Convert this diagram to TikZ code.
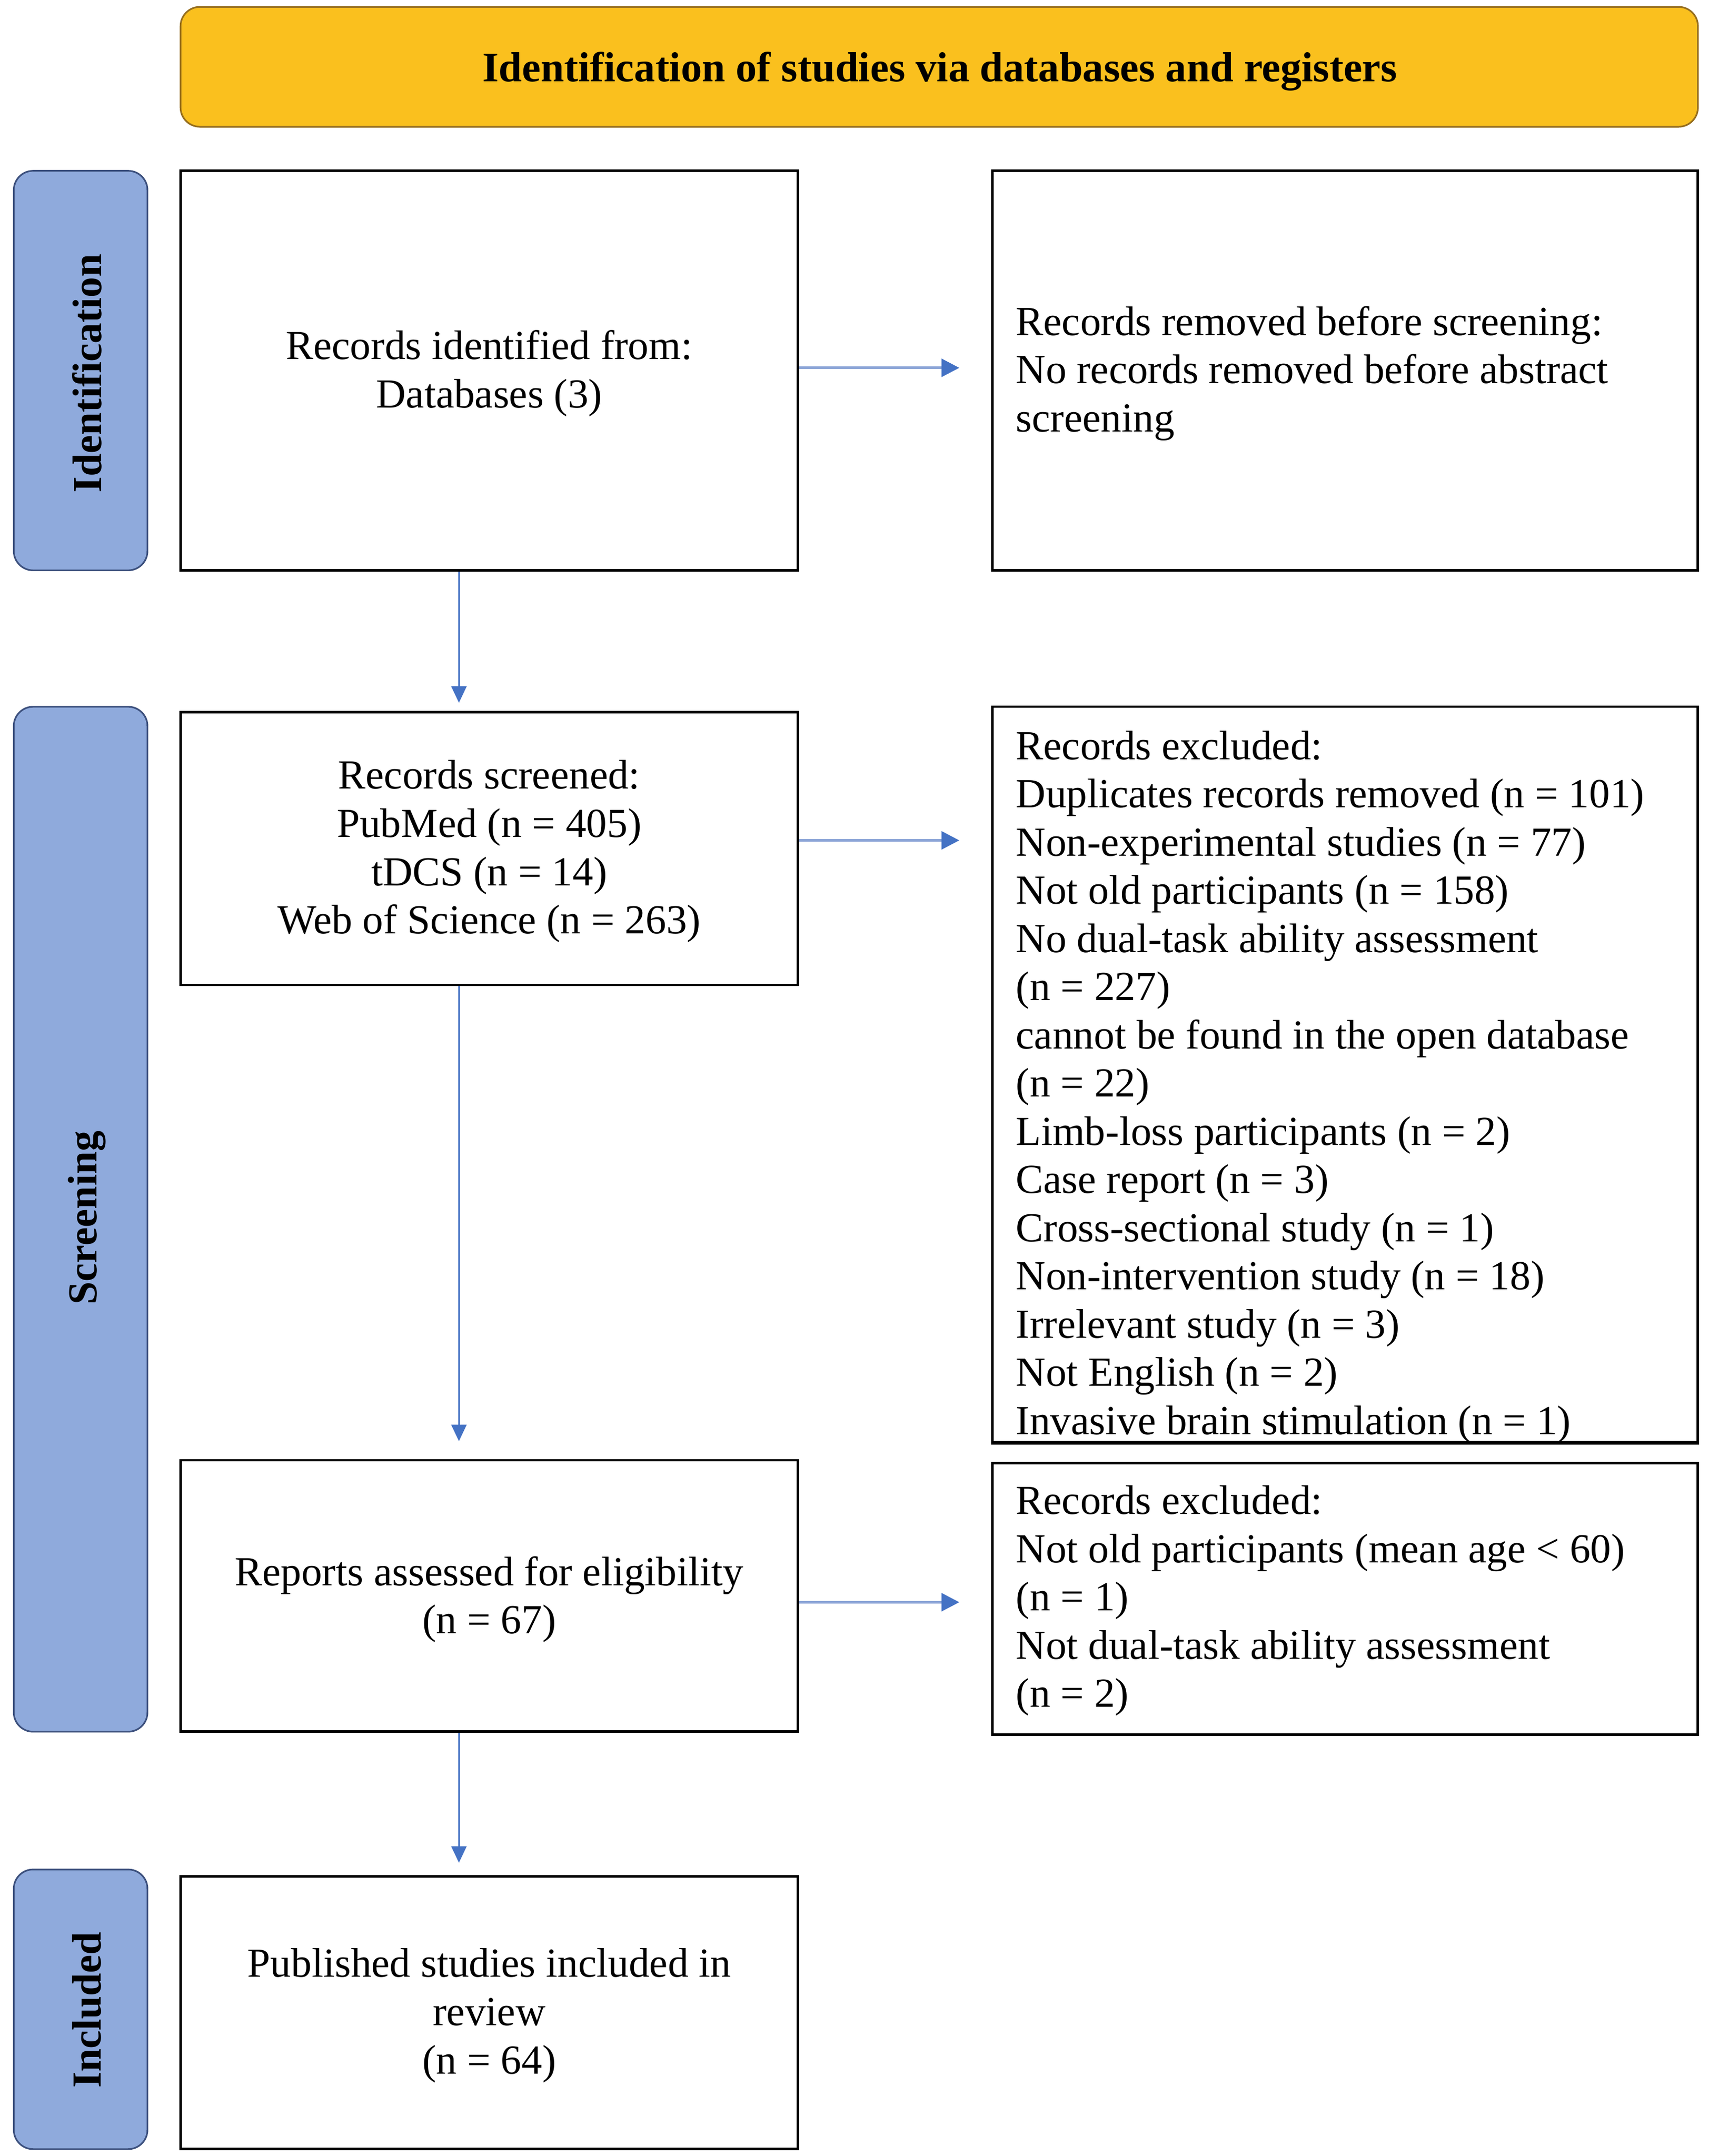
\documentclass[tikz,border=0pt]{standalone}
\usepackage{fontspec}
\setmainfont{Liberation Serif}
\usetikzlibrary{arrows.meta,calc}
\definecolor{hdrfill}{RGB}{250,192,30}
\definecolor{hdrdraw}{RGB}{150,110,30}
\definecolor{lblfill}{RGB}{143,170,220}
\definecolor{lbldraw}{RGB}{60,80,125}
\definecolor{arrblue}{RGB}{68,114,196}
\definecolor{arrline}{RGB}{140,165,215}
\begin{document}
\begin{tikzpicture}[x=1pt,y=-1pt,
  box/.style={draw=black,line width=1.8pt,rectangle,inner sep=0pt,fill=white},
  hdr/.style={draw=hdrdraw,fill=hdrfill,line width=1.2pt,rounded corners=14pt,inner sep=0pt},
  lbl/.style={draw=lbldraw,fill=lblfill,line width=1.2pt,rounded corners=14pt,inner sep=0pt},
  txt/.style={font=\fontsize{30}{35}\selectfont,inner sep=0pt,align=center},
  ltxt/.style={font=\fontsize{30}{35}\selectfont,inner sep=0pt,align=left,anchor=west},
  htxt/.style={font=\bfseries\fontsize{30.5}{36}\selectfont,inner sep=0pt},
  stxt/.style={font=\bfseries\fontsize{30}{36}\selectfont,inner sep=0pt,rotate=90},
  harr/.style={draw=arrline,line width=2pt,-{Triangle[length=13pt,width=13pt,color=arrblue]},shorten >=23pt},
  varr/.style={draw=arrblue,line width=1.3pt,-{Triangle[length=12pt,width=11pt,color=arrblue]}}
]
\useasboundingbox (0,0) rectangle (1240,1565);
% header
\node[hdr,minimum width=1101pt,minimum height=87pt] (hdr) at (681.5,48.5) {};
\node[htxt] (hdrt) at (682,52) {Identification of studies via databases and registers};
% side labels
\node[lbl,minimum width=97pt,minimum height=290pt] (lid) at (58.5,269) {};
\node[stxt] (lidt) at (63,271) {Identification};
\node[lbl,minimum width=97pt,minimum height=744pt] (lsc) at (58.5,885) {};
\node[stxt] (lsct) at (63,884) {Screening};
\node[lbl,minimum width=97pt,minimum height=203pt] (lin) at (58.5,1458.5) {};
\node[stxt] (lint) at (63,1459) {Included};
% boxes
\node[box,minimum width=448pt,minimum height=290pt] (A) at (355,269) {};
\node[box,minimum width=512pt,minimum height=290pt] (B) at (976,269) {};
\node[box,minimum width=448pt,minimum height=198pt] (C) at (355,616) {};
\node[box,minimum width=512pt,minimum height=534pt] (D) at (976,780) {};
\node[box,minimum width=448pt,minimum height=197pt] (E) at (355,1158.5) {};
\node[box,minimum width=512pt,minimum height=197pt] (F) at (976,1160.5) {};
\node[box,minimum width=448pt,minimum height=198pt] (G) at (355,1461) {};
% texts
\node[txt] (At) at (355,271) {Records identified from:\\Databases (3)};
\node[ltxt] (Bt) at (737,271) {Records removed before screening:\\No records removed before abstract\\screening};
\node[txt] (Ct) at (355,618) {Records screened:\\PubMed (n = 405)\\tDCS (n = 14)\\Web of Science (n = 263)};
\begin{scope}
\clip (D.north west) rectangle (D.south east);
\node[ltxt] (Dt) at (737,789) {Records excluded:\\
Duplicates records removed (n = 101)\\
Non-experimental studies (n = 77)\\
Not old participants (n = 158)\\
No dual-task ability assessment\\
(n = 227)\\
cannot be found in the open database\\
(n = 22)\\
Limb-loss participants (n = 2)\\
Case report (n = 3)\\
Cross-sectional study (n = 1)\\
Non-intervention study (n = 18)\\
Irrelevant study (n = 3)\\
Not English (n = 2)\\
Invasive brain stimulation (n = 1)};
\end{scope}
\draw[line width=1.8pt] (D.south west) -- (D.south east);
\node[txt] (Et) at (355,1161) {Reports assessed for eligibility\\(n = 67)};
\node[ltxt] (Ft) at (737,1162) {Records excluded:\\Not old participants (mean age < 60)\\(n = 1)\\Not dual-task ability assessment\\(n = 2)};
\node[txt] (Gt) at (355,1463) {Published studies included in\\review\\(n = 64)};
% connectors
\coordinate (vx) at (333,0);
\draw[harr] ($(A.east)+(0,-2)$) -- ($(A.east -| B.west)+(0,-2)$);
\draw[harr] ($(C.east)+(0,-6)$) -- ($(C.east -| D.west)+(0,-6)$);
\draw[harr] ($(E.east)+(0,4.5)$) -- ($(E.east -| F.west)+(0,4.5)$);
\draw[varr,shorten >=6pt] (A.south -| vx) -- (C.north -| vx);
\draw[varr,shorten >=13pt] (C.south -| vx) -- (E.north -| vx);
\draw[varr,shorten >=9pt] (E.south -| vx) -- (G.north -| vx);
\end{tikzpicture}
\end{document}
